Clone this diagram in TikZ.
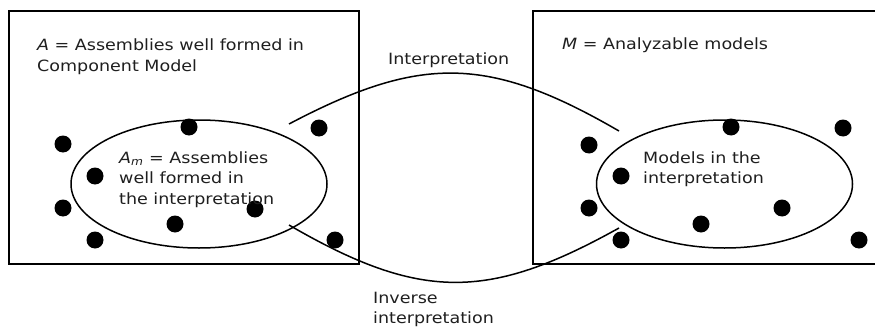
\documentclass[tikz,border=0pt]{standalone}
\usepackage{fontspec}
\setmainfont{DejaVu Sans}[FakeStretch=1.13]
\usetikzlibrary{shapes.geometric}
\begin{document}
\begin{tikzpicture}[x=1pt,y=-1pt,
  txt/.style={anchor=base west,inner sep=0pt,font=\fontsize{15.5}{20}\selectfont,text=black!88},
  frame/.style={draw=black,line width=1.7pt},
  oval/.style={draw=black,line width=1.5pt,ellipse,minimum width=256pt,minimum height=128pt,inner sep=0pt},
  dot/.style={circle,fill=black,minimum size=17pt,inner sep=0pt},
  arc/.style={draw=black,line width=1.5pt}]
\useasboundingbox (0,0) rectangle (875,329);
% boxes
\draw[frame] (9,11) rectangle (359,264);
\draw[frame] (533,11) rectangle (885,264);
% ellipses
\node[oval] (Am) at (199,184) {};
\node[oval] (Mi) at (724.5,184) {};
% dots left
\foreach \p [count=\i] in {(189,127),(63,144),(95,176),(63,208),(95,240),(175,224),(255,209),(319,128),(335,240)}
  \node[dot] (l\i) at \p {};
% dots right
\foreach \p [count=\i] in {(589,145),(621,176),(589,208),(621,240),(731,127),(843,128),(701,224),(782,208),(859,240)}
  \node[dot] (r\i) at \p {};
% texts
\node[txt] (t1) at (37,51) {\textit{A} = Assemblies well formed in};
\node[txt] (t2) at (37,71) {Component Model};
\node[txt] (t3) at (562,49) {\textit{M} = Analyzable models};
\node[txt] (t4) at (119,163) {\textit{A}\textsubscript{\textit{m}} = Assemblies};
\node[txt] (t5) at (119,183) {well formed in};
\node[txt] (t6) at (119,204) {the interpretation};
\node[txt] (t7) at (643,163) {Models in the};
\node[txt] (t8) at (643,183) {interpretation};
\node[txt] (t9) at (388,65) {Interpretation};
\node[txt] (t10) at (373,303) {Inverse};
\node[txt] (t11) at (373,323) {interpretation};
% connectors
\coordinate (a1) at (289,124);
\coordinate (a2) at (619,131);
\coordinate (b1) at (289,225);
\coordinate (b2) at (619,228);
\draw[arc] (a1) .. controls (420,55) and (488,55) .. (a2);
\draw[arc] (b1) .. controls (420,301) and (488,301) .. (b2);
\end{tikzpicture}
\end{document}
